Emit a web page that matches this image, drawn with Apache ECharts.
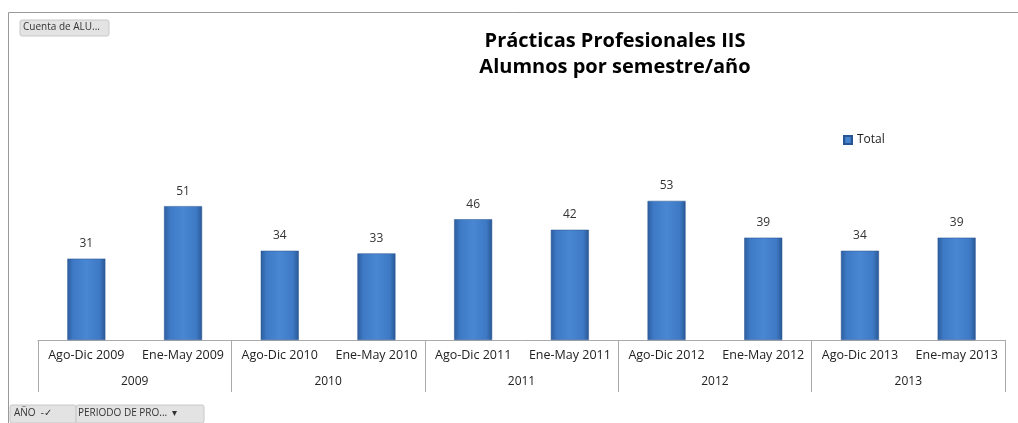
<!DOCTYPE html>
<html>
<head>
<meta charset="utf-8">
<script src="https://cdn.jsdelivr.net/npm/echarts@6/dist/echarts.min.js"></script>
<style>
  html, body { margin: 0; padding: 0; background: #fff; }
  #main { width: 1018px; height: 423px; }
</style>
</head>
<body>
<div id="main"></div>
<script>
var periodos = ['Ago-Dic 2009', 'Ene-May 2009', 'Ago-Dic 2010', 'Ene-May 2010', 'Ago-Dic 2011',
  'Ene-May 2011', 'Ago-Dic 2012', 'Ene-May 2012', 'Ago-Dic 2013', 'Ene-may 2013'];
var anios = ['2009', '2010', '2011', '2012', '2013'];
var totales = [31, 51, 34, 33, 46, 42, 53, 39, 34, 39];

var chart = echarts.init(document.getElementById('main'));

var barColor = new echarts.graphic.LinearGradient(0, 0, 1, 0, [
  { offset: 0, color: '#2c5d9e' },
  { offset: 0.15, color: '#3d79c4' },
  { offset: 0.5, color: '#4a87d2' },
  { offset: 0.85, color: '#3d79c4' },
  { offset: 1, color: '#2a5895' }
]);

var option = {
  animation: false,
  title: {
    text: 'Prácticas Profesionales IIS\nAlumnos por semestre/año',
    left: 610,
    top: 23,
    textAlign: 'center',
    textStyle: { fontFamily: 'Open Sans', fontSize: 20, fontWeight: 'bold', color: '#000', lineHeight: 26 }
  },
  legend: {
    data: ['Total'],
    left: 838,
    top: 129,
    icon: 'rect',
    itemWidth: 8,
    itemHeight: 8,
    itemGap: 3,
    textStyle: { fontFamily: 'Open Sans', fontSize: 12, color: '#222' }
  },
  grid: { left: 38, right: 13, top: 130, bottom: 83 },
  xAxis: [{
    type: 'category',
    data: periodos,
    axisLine: { lineStyle: { color: '#aaa' } },
    axisTick: { show: false },
    axisLabel: { interval: 0, margin: 9, color: '#222', fontFamily: 'Open Sans', fontSize: 12.5 }
  }, {
    type: 'category',
    position: 'bottom',
    data: anios,
    axisLine: { show: false },
    axisTick: { show: true, length: 52, lineStyle: { color: '#aaa' } },
    axisLabel: { interval: 0, margin: 36, color: '#222', fontFamily: 'Open Sans', fontSize: 12 }
  }],
  yAxis: { type: 'value', min: 0, max: 80, show: false, splitLine: { show: false } },
  series: [{
    name: 'Total',
    type: 'bar',
    data: totales,
    barWidth: 38,
    itemStyle: { color: barColor, borderColor: '#2a5592', borderWidth: 0.5 },
    label: { show: true, position: 'top', distance: 9, color: '#333', fontFamily: 'Open Sans', fontSize: 12 }
  }],
  graphic: [
    { type: 'line', shape: { x1: 8.5, y1: 12.5, x2: 1018, y2: 12.5 }, style: { stroke: '#999', lineWidth: 1 } },
    { type: 'line', shape: { x1: 8.5, y1: 12.5, x2: 8.5, y2: 423 }, style: { stroke: '#999', lineWidth: 1 } },
    { type: 'rect', shape: { x: 20, y: 20, width: 89, height: 16, r: 2 }, style: { fill: '#e3e3e3', stroke: '#c8c8c8' } },
    { type: 'text', left: 23, top: 22, style: { text: 'Cuenta de ALU...', font: '10px "Open Sans"', fill: '#333' } },
    { type: 'rect', shape: { x: 10, y: 405, width: 66, height: 18, r: 2 }, style: { fill: '#e3e3e3', stroke: '#c8c8c8' } },
    { type: 'rect', shape: { x: 76, y: 405, width: 128, height: 18, r: 2 }, style: { fill: '#e3e3e3', stroke: '#c8c8c8' } },
    { type: 'text', left: 14, top: 408, style: { text: 'AÑO  -✓', font: '10px "Open Sans"', fill: '#333' } },
    { type: 'text', left: 78, top: 408, style: { text: 'PERIODO DE PRO...  ▾', font: '10px "Open Sans"', fill: '#333' } }
  ]
};

chart.setOption(option);
</script>
</body>
</html>
